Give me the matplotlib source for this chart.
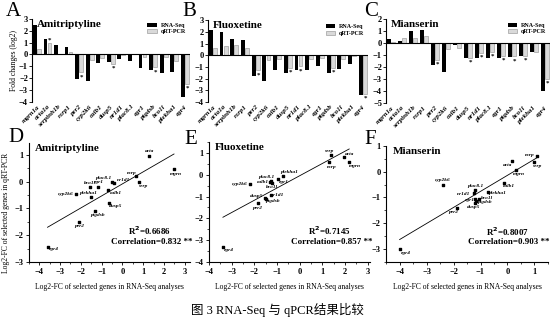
import matplotlib.pyplot as plt
import numpy as np
from matplotlib.ticker import MultipleLocator

plt.rcParams['font.family'] = ['Liberation Serif', 'Noto Sans CJK SC']
plt.rcParams['font.weight'] = 'bold'
plt.rcParams['axes.linewidth'] = 0.8

genes = ['mgrn1a', 'acta1a', 'serpinh1b', 'rxrp1', 'per2', 'cyp2k6', 'calb1', 'dusp5',
         'nr1d1', 'plac8.1', 'egr1', 'ptgdsb', 'bco1l', 'plekha1', 'egr4']
short_names = ['mgrn', 'acta', 'serp', 'rxrp', 'per2', 'cyp2k6', 'calb1', 'dusp5',
               'nr1d1', 'plac8.1', 'egr1', 'ptgdsb', 'bco1l', 'plekha1', 'egr4']

# log2 fold changes, RNA-Seq vs qRT-PCR
ami_rnaseq = [2.48, 1.26, 0.82, 0.66, -2.08, -2.22, -0.70, -0.64, -0.42, -0.52, -1.18, -1.32, -1.58, -1.50, -3.60]
ami_qpcr = [0.46, 0.95, 0.0, 0.21, -1.50, -0.46, -0.30, -0.78, -0.05, 0.0, -0.18, -1.08, -0.20, -0.58, -2.45]
ami_sig = ['acta1a', 'per2', 'dusp5', 'ptgdsb', 'egr4']

flu_rnaseq = [2.18, 1.95, 1.38, 1.28, -1.82, -2.20, -1.30, -1.52, -1.26, -1.28, -0.96, -1.50, -1.22, -0.72, -3.38]
flu_qpcr = [0.58, 0.80, 0.90, 0.58, -1.30, -0.45, -0.32, -1.08, -0.95, -0.30, -0.22, -1.10, -0.36, -0.05, -3.30]
flu_sig = ['per2', 'dusp5', 'nr1d1', 'ptgdsb', 'egr4']

mia_rnaseq = [0.30, 0.16, 1.00, 1.08, -1.88, -2.40, -0.14, -1.22, -1.25, -1.22, -1.22, -1.16, -1.06, -0.72, -4.00]
mia_qpcr = [0.08, 0.40, 0.38, 0.60, -1.42, -0.50, -0.42, -1.22, -0.82, -0.72, -1.06, -1.12, -1.06, -0.78, -3.00]
mia_sig = ['per2', 'dusp5', 'nr1d1', 'plac8.1', 'egr1', 'ptgdsb', 'bco1l', 'egr4']

ami_r2, ami_corr = '0.6686', '0.832'
flu_r2, flu_corr = '0.7145', '0.857'
mia_r2, mia_corr = '0.8007', '0.903'

# label offsets (points) for the gene names next to scatter points
ami_offsets = {'acta': (1, 3.5), 'mgrn': (1, -3.5), 'rxrp': (-3, 2.5), 'serp': (2, -3),
               'plac8.1': (-5.5, 3), 'nr1d1': (7, 2.5), 'bco1l': (0, 3), 'egr1': (1, 3),
               'cyp2k6': (-7.5, 0), 'plekha1': (-2, 3), 'calb1': (5.5, -2.5), 'dusp5': (4.5, -2.5),
               'ptgdsb': (1.7, -3), 'per2': (0.5, -3), 'egr4': (4.5, -1)}
flu_offsets = {'serp': (-2, 3), 'acta': (4, 2), 'rxrp': (2, -3.5), 'mgrn': (4, -3),
               'plekha1': (4, 3), 'plac8.1': (-3, 3), 'calb1': (-5.5, -0.5), 'egr1': (4, -1.5),
               'bco1l': (0, -3), 'cyp2k6': (-7.5, 0), 'dusp5': (-6, 1.5), 'nr1d1': (5, 0.5),
               'ptgdsb': (5, -2), 'per2': (-1, -3.5), 'egr4': (4.5, -2)}
mia_offsets = {'rxrp': (-5, 1), 'serp': (2, -3), 'acta': (-3, -2.5), 'mgrn': (2.5, -3),
               'calb1': (4, -2.5), 'cyp2k6': (0, 3), 'plac8.1': (1, 3), 'nr1d1': (-7, -0.5),
               'plekha1': (7, -0.5), 'bco1l': (5.5, 1), 'egr1': (-3.5, -1), 'ptgdsb': (6, -1.2),
               'dusp5': (-1, -2.8), 'per2': (-2.5, -2.5), 'egr4': (4.5, -3)}


def draw_bars(ax, rna, qpcr, sig, title, ylim, show_ylabel=False):
    x = np.arange(len(genes))
    ax.bar(x - 0.19, rna, width=0.36, color='black', label='RNA-Seq', zorder=2)
    ax.bar(x + 0.19, qpcr, width=0.36, color='#d9d9d9', edgecolor='#8c8c8c',
           linewidth=0.4, label='qRT-PCR', zorder=2)
    for i, g in enumerate(genes):
        if g in sig:
            v = qpcr[i]
            ax.annotate('*', (x[i] + 0.22, v), xytext=(0, -3.2 if v < 0 else 0.5),
                        textcoords='offset points', ha='center',
                        va='center' if v < 0 else 'bottom', fontsize=5)
    ax.axhline(0, color='black', lw=0.8, zorder=3)
    ax.set_xlim(-0.45, 14.5)
    ax.set_ylim(*ylim)
    ax.yaxis.set_major_locator(MultipleLocator(1))
    ax.set_xticks(x)
    ax.set_xticklabels(genes, rotation=45, ha='right', rotation_mode='anchor',
                       fontsize=5, style='italic')
    ax.tick_params(axis='x', length=0, pad=1.5)
    ax.tick_params(axis='y', length=2, width=0.6, labelsize=6, pad=1)
    for s in ['top', 'right', 'bottom']:
        ax.spines[s].set_visible(False)
    ax.text(0.03, 0.99, title, transform=ax.transAxes, fontsize=8, va='top', ha='left')
    ax.legend(loc='upper right', fontsize=4.3, frameon=False, handlelength=1.6,
              handleheight=0.6, borderaxespad=0.3, labelspacing=0.25, handletextpad=0.6)
    if show_ylabel:
        ax.set_ylabel('Fold changes (log2)', fontsize=5.5, labelpad=1)


def draw_scatter(ax, rna, qpcr, title, r2, corr, offsets, xlim, ylim, show_ylabel=False):
    rna = np.asarray(rna)
    qpcr = np.asarray(qpcr)
    ax.scatter(rna, qpcr, marker='s', s=3, color='black', zorder=3)
    for name, xv, yv in zip(short_names, rna, qpcr):
        dx, dy = offsets[name]
        ax.annotate(name, (xv, yv), xytext=(dx, dy), textcoords='offset points',
                    ha='center', va='center', fontsize=3.9, style='italic')
    slope, icpt = np.polyfit(rna, qpcr, 1)
    xs = np.array([rna.min(), rna.max()])
    ax.plot(xs, slope * xs + icpt, color='black', lw=0.6)
    ax.set_xlim(*xlim)
    ax.set_ylim(*ylim)
    ax.xaxis.set_major_locator(MultipleLocator(1))
    ax.yaxis.set_major_locator(MultipleLocator(1))
    ax.xaxis.set_minor_locator(MultipleLocator(0.5))
    ax.yaxis.set_minor_locator(MultipleLocator(0.5))
    ax.tick_params(which='major', length=2.5, width=0.6, labelsize=6, pad=1.5)
    ax.tick_params(which='minor', length=1.5, width=0.5)
    for s in ['top', 'right']:
        ax.spines[s].set_visible(False)
    ax.text(0.04, 0.99, title, transform=ax.transAxes, fontsize=8, va='top', ha='left')
    ax.text(0.75, 0.26, f'R$^{{2}}$={r2}', transform=ax.transAxes, fontsize=6.5,
            ha='center', va='center')
    ax.text(0.76, 0.17, f'Correlation={corr} **', transform=ax.transAxes, fontsize=6.5,
            ha='center', va='center')
    ax.set_xlabel('Log2-FC of selected genes in RNA-Seq analyses', fontsize=5.5, labelpad=5)
    if show_ylabel:
        ax.set_ylabel('Log2-FC of selected genes in qRT-PCR', fontsize=5.5)
        ax.yaxis.set_label_coords(-0.115, 0.41)


fig = plt.figure(figsize=(5.54, 3.30), dpi=100, facecolor='white')

ax_a = fig.add_axes([0.058, 0.691, 0.285, 0.252])
ax_b = fig.add_axes([0.3755, 0.691, 0.289, 0.248])
ax_c = fig.add_axes([0.697, 0.688, 0.296, 0.255])
draw_bars(ax_a, ami_rnaseq, ami_qpcr, ami_sig, 'Amitriptyline', (-4, 3), show_ylabel=True)
draw_bars(ax_b, flu_rnaseq, flu_qpcr, flu_sig, 'Fluoxetine', (-4, 3))
draw_bars(ax_c, mia_rnaseq, mia_qpcr, mia_sig, 'Mianserin', (-5, 2))

ax_d = fig.add_axes([0.052, 0.206, 0.291, 0.361])
ax_e = fig.add_axes([0.377, 0.206, 0.291, 0.364])
ax_f = fig.add_axes([0.697, 0.206, 0.292, 0.352])
draw_scatter(ax_d, ami_rnaseq, ami_qpcr, 'Amitriptyline', ami_r2, ami_corr, ami_offsets,
             (-4.5, 3.25), (-3, 1.45), show_ylabel=True)
draw_scatter(ax_e, flu_rnaseq, flu_qpcr, 'Fluoxetine', flu_r2, flu_corr, flu_offsets,
             (-4, 3.1), (-4, 1.5))
draw_scatter(ax_f, mia_rnaseq, mia_qpcr, 'Mianserin', mia_r2, mia_corr, mia_offsets,
             (-4.5, 1.5), (-3.5, 1.0))

# panel letters
for letter, px, py in [('A', 6, 2), ('B', 182, 2), ('C', 364, 2),
                       ('D', 8, 128), ('E', 184, 130), ('F', 364, 130)]:
    fig.text(px / 554, 1 - py / 330, letter, fontsize=15, fontweight='normal',
             ha='left', va='top')

fig.text(0.5, 1 - 310 / 330, '图 3 RNA-Seq 与 qPCR结果比较', fontsize=9,
         fontweight='normal', ha='center', va='center')

fig.savefig('out.png', dpi=100, facecolor='white')
